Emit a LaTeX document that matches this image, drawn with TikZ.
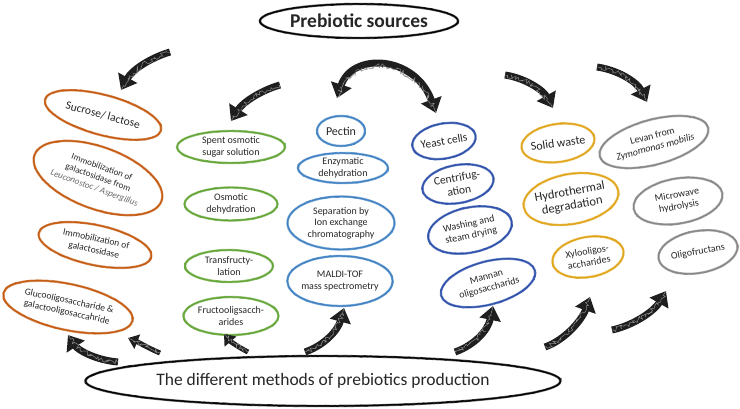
\documentclass[tikz,border=0pt]{standalone}
\usepackage{fontspec}
\setmainfont{Carlito}
\usetikzlibrary{shapes.geometric,arrows.meta,decorations.pathmorphing}

\definecolor{rust}{RGB}{197,90,17}
\definecolor{leaf}{RGB}{100,165,55}
\definecolor{sky}{RGB}{65,130,195}
\definecolor{deepblue}{RGB}{45,80,170}
\definecolor{gold}{RGB}{225,165,25}
\definecolor{ash}{RGB}{135,135,135}

\begin{document}
\begin{tikzpicture}[x=1pt,y=-1pt,
    sketch/.style={ellipse, draw=#1, line width=1.1pt, inner sep=-1.5pt, align=center, text=black!85,
        font=\fontsize{10}{11.5}\selectfont,
        preaction={draw=#1!65, line width=2.4pt},
        postaction={draw=#1, line width=.5pt, decorate,
            decoration={random steps, segment length=2.5pt, amplitude=.9pt}}},
    blob/.style={line width=7pt, draw=black!88, -{Triangle[width=21pt,length=14pt]},
        postaction={draw=black!45, line width=.5pt, arrows=-, decorate,
            decoration={random steps, segment length=1.6pt, amplitude=2.4pt, pre length=1pt, post length=5pt}}}]

    \useasboundingbox (0,0) rectangle (740,408);

    \node[sketch=black, minimum width=198, minimum height=34, font=\fontsize{19.5}{22}\selectfont\bfseries] (src) at (359,21) {Prebiotic sources};
    \node[sketch=black, minimum width=475, minimum height=50, font=\fontsize{17.5}{20}\selectfont] (meth) at (323,381) {The different methods of prebiotics production};

    % sucrose / lactose
    \node[sketch=rust, minimum width=120, minimum height=40, rotate=-15, font=\fontsize{11.5}{13}\selectfont] (suc) at (103,115) {Sucrose/ lactose};
    \node[sketch=rust, minimum width=135, minimum height=62, rotate=-20, font=\fontsize{9}{11}\selectfont] (imm1) at (98,178) {Immobilization of\\ galactosidase from\\ \textcolor{black!60}{\itshape Leuconostoc / Aspergillus}};
    \node[sketch=rust, minimum width=115, minimum height=40, rotate=-12, font=\fontsize{9.5}{11.5}\selectfont] (imm2) at (95,245) {Immobilization of\\ galactosidase};
    \node[sketch=rust, minimum width=132, minimum height=46, rotate=-12, font=\fontsize{9.5}{11.5}\selectfont] (gos) at (68,307) {Glucooligosaccharide \&\\ galactooligosaccahride};

    % osmotic sugar
    \node[sketch=leaf, minimum width=108, minimum height=32] (spent) at (231,147) {Spent osmotic\\ sugar solution};
    \node[sketch=leaf, minimum width=93, minimum height=33] (osm) at (231,204) {Osmotic\\ dehydration};
    \node[sketch=leaf, minimum width=88, minimum height=32] (trans) at (229,266) {Transfructy-\\lation};
    \node[sketch=leaf, minimum width=95, minimum height=38] (fos) at (231,316) {Fructooligsacch-\\arides};

    % pectin
    \node[sketch=sky, minimum width=48, minimum height=30, font=\fontsize{12}{13}\selectfont] (pec) at (341,131) {Pectin};
    \node[sketch=sky, minimum width=90, minimum height=30] (enz) at (343,168) {Enzymatic\\ dehydration};
    \node[sketch=sky, minimum width=107, minimum height=53] (sep) at (341,223) {Separation by\\ Ion exchange\\ chromatography};
    \node[sketch=sky, minimum width=105, minimum height=50] (maldi) at (340,281) {MALDI-TOF\\ mass spectrometry};

    % yeast
    \node[sketch=deepblue, minimum width=64, minimum height=35, rotate=10, font=\fontsize{11.5}{13}\selectfont] (yeast) at (444,141) {Yeast cells};
    \node[sketch=deepblue, minimum width=72, minimum height=38, rotate=10, font=\fontsize{11.5}{13}\selectfont] (cent) at (458,184) {Centrifug-\\ation};
    \node[sketch=deepblue, minimum width=85, minimum height=45, rotate=12] (wash) at (470,230) {Washing and\\ steam drying};
    \node[sketch=deepblue, minimum width=97, minimum height=43, rotate=15] (man) at (488,283) {Mannan\\ oligosaccharids};

    % solid waste
    \node[sketch=gold, minimum width=72, minimum height=38, rotate=8, font=\fontsize{12}{13}\selectfont] (solid) at (558,143) {Solid waste};
    \node[sketch=gold, minimum width=95, minimum height=50, rotate=10, font=\fontsize{12.5}{14}\selectfont] (hydro) at (571,199) {Hydrothermal\\ degradation};
    \node[sketch=gold, minimum width=72, minimum height=40, rotate=10] (xylo) at (588,257) {Xylooligos-\\accharides};

    % levan
    \node[sketch=ash, minimum width=112, minimum height=45, rotate=15] (levan) at (654,142) {Levan from\\ \textit{Zymomonas mobilis}};
    \node[sketch=ash, minimum width=90, minimum height=45, rotate=10] (micro) at (678,201) {Microwave\\ hydrolysis};
    \node[sketch=ash, minimum width=80, minimum height=42, rotate=10] (oligo) at (698,252) {Oligofructans};

    \coordinate (t1) at (170,52);  \coordinate (h1) at (121,90);
    \coordinate (t2) at (280,85);  \coordinate (h2) at (231,121);
    \coordinate (h3) at (337,98);  \coordinate (h4) at (436,113);
    \coordinate (t5) at (505,75);  \coordinate (h5) at (553,108);
    \coordinate (t6) at (597,67);  \coordinate (h6) at (647,102);

    \draw[blob] (t1) .. controls (150,58) and (132,70) .. (h1);
    \draw[blob] (t2) .. controls (262,90) and (243,102) .. (h2);
    \draw[blob, {Triangle[width=21pt,length=14pt]}-{Triangle[width=21pt,length=14pt]}] (h3) .. controls (352,52) and (415,55) .. (h4);
    \draw[blob] (t5) .. controls (525,78) and (543,90) .. (h5);
    \draw[blob] (t6) .. controls (618,70) and (637,82) .. (h6);

    \coordinate (u1) at (118,362); \coordinate (p1) at (68,335);
    \coordinate (u2) at (160,353); \coordinate (p2) at (128,338);
    \coordinate (u3) at (248,352); \coordinate (p3) at (224,334);
    \coordinate (u4) at (305,352); \coordinate (p4) at (344,308);
    \coordinate (u5) at (455,352); \coordinate (p5) at (493,306);
    \coordinate (u6) at (545,347); \coordinate (p6) at (590,297);
    \coordinate (u7) at (612,330); \coordinate (p7) at (666,291);

    \draw[blob] (u1) .. controls (95,360) and (78,350) .. (p1);
    \draw[blob, line width=5pt, -{Triangle[width=15pt,length=10pt]}] (u2) .. controls (148,348) and (138,342) .. (p2);
    \draw[blob, line width=5pt, -{Triangle[width=15pt,length=10pt]}] (u3) .. controls (238,347) and (230,341) .. (p3);
    \draw[blob] (u4) .. controls (325,345) and (338,330) .. (p4);
    \draw[blob] (u5) .. controls (475,345) and (488,330) .. (p5);
    \draw[blob] (u6) .. controls (565,340) and (582,320) .. (p6);
    \draw[blob] (u7) .. controls (635,325) and (655,310) .. (p7);
\end{tikzpicture}
\end{document}
